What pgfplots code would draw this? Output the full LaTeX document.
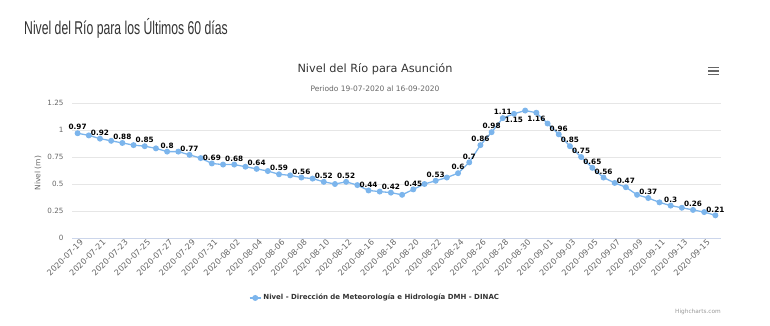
\documentclass[border=0pt]{standalone}
\usepackage{fontspec}
\setmainfont{DejaVu Sans}
\newfontfamily\condfont[FakeStretch=0.66]{Liberation Sans}
\usepackage{pgfplots}
\usepackage{pgfplotstable}
\pgfplotsset{compat=1.18}
\definecolor{hcblue}{HTML}{7CB5EC}
\definecolor{ctitle}{HTML}{333333}
\definecolor{csub}{HTML}{666666}
\definecolor{cgrid}{HTML}{E6E6E6}
\definecolor{caxis}{HTML}{CCD6EB}
\definecolor{ccred}{HTML}{999999}

\pgfplotstableread{
x y
0 0.97
1 0.95
2 0.92
3 0.90
4 0.88
5 0.86
6 0.85
7 0.83
8 0.80
9 0.80
10 0.77
11 0.74
12 0.69
13 0.68
14 0.68
15 0.66
16 0.64
17 0.62
18 0.59
19 0.58
20 0.56
21 0.55
22 0.52
23 0.50
24 0.52
25 0.49
26 0.44
27 0.43
28 0.42
29 0.40
30 0.45
31 0.50
32 0.53
33 0.56
34 0.60
35 0.70
36 0.86
37 0.98
38 1.11
39 1.15
40 1.18
41 1.16
42 1.06
43 0.96
44 0.85
45 0.75
46 0.65
47 0.56
48 0.51
49 0.47
50 0.40
51 0.37
52 0.33
53 0.30
54 0.28
55 0.26
56 0.24
57 0.21
}\nivel

\pgfplotstableread{
x y
0 0.97
2 0.92
4 0.88
6 0.85
8 0.80
10 0.77
12 0.69
14 0.68
16 0.64
18 0.59
20 0.56
22 0.52
24 0.52
26 0.44
28 0.42
30 0.45
32 0.53
34 0.60
35 0.70
36 0.86
37 0.98
38 1.11
43 0.96
44 0.85
45 0.75
46 0.65
47 0.56
49 0.47
51 0.37
53 0.30
55 0.26
57 0.21
}\labup

\pgfplotstableread{
x y
39 1.15
41 1.16
}\labdown

\begin{document}
\begin{tikzpicture}
\path[use as bounding box] (0pt,0pt) rectangle (770pt,325pt);
\node[anchor=west, text=ctitle, inner sep=0pt] at (24pt,297pt) {\condfont\fontsize{18.5}{20}\selectfont Nivel del Río para los Últimos 60 días};
\node[text=ctitle, inner sep=0pt] at (375pt,256pt) {\fontsize{11.3}{13}\selectfont Nivel del Río para Asunción};
\node[text=csub, inner sep=0pt] at (375pt,236pt) {\fontsize{7.5}{9}\selectfont Periodo 19-07-2020 al 16-09-2020};
\node[text=ccred, inner sep=0pt] at (698pt,13pt) {\fontsize{5.8}{7}\selectfont Highcharts.com};
\draw[csub, line width=1.4pt] (708pt,257.3pt) -- (719pt,257.3pt);
\draw[csub, line width=1.4pt] (708pt,254pt) -- (719pt,254pt);
\draw[csub, line width=1.4pt] (708pt,250.7pt) -- (719pt,250.7pt);
\begin{axis}[
  at={(72pt,87pt)}, anchor=south west,
  width=649pt, height=135pt, scale only axis,
  xmin=-0.5, xmax=57.5, ymin=0, ymax=1.25,
  clip=false,
  axis x line*=bottom, axis y line*=left,
  x axis line style={caxis, -},
  y axis line style={draw=none},
  tick style={draw=none},
  ytick={0,0.25,0.5,0.75,1,1.25},
  yticklabels={0,0.25,0.5,0.75,1,1.25},
  ymajorgrids, grid style={cgrid, line width=0.6pt},
  yticklabel style={font=\fontsize{7.2}{8}\selectfont, text=csub, xshift=-5pt},
  xtick={0,2,...,56},
  xticklabels={2020-07-19,2020-07-21,2020-07-23,2020-07-25,2020-07-27,2020-07-29,2020-07-31,2020-08-02,2020-08-04,2020-08-06,2020-08-08,2020-08-10,2020-08-12,2020-08-16,2020-08-18,2020-08-20,2020-08-22,2020-08-24,2020-08-26,2020-08-28,2020-08-30,2020-09-01,2020-09-03,2020-09-05,2020-09-07,2020-09-09,2020-09-11,2020-09-13,2020-09-15},
  xticklabel style={font=\fontsize{8.1}{9}\selectfont, text=csub, rotate=45, anchor=east, inner sep=1pt, xshift=2pt, yshift=-5pt},
  ylabel={Nivel (m)},
  ylabel style={at={(axis description cs:-0.0524,0.48)}, anchor=center, font=\fontsize{7.5}{8}\selectfont, text=csub},
  legend style={at={(axis description cs:0.467,-0.444)}, anchor=center, draw=none, fill=none,
    font=\bfseries\fontsize{7}{8}\selectfont, text=ctitle},
  legend image code/.code={\draw[mark repeat=2,mark phase=2,#1] plot coordinates {(0pt,0pt) (5.5pt,0pt) (11pt,0pt)};},
  /pgf/number format/assume math mode=true,
]
\addplot[hcblue, line width=1.3pt, mark=*, mark size=2.3pt, mark options={fill=hcblue, draw=hcblue}] table[x=x,y=y] {\nivel};
\addlegendentry{Nivel - Dirección de Meteorología e Hidrología DMH - DINAC}
\addplot[draw=none, forget plot, nodes near coords={\pgfmathprintnumber{\pgfplotspointmeta}},
  point meta=y,
  every node near coord/.append style={font=\bfseries\fontsize{7.3}{8}\selectfont, text=black, anchor=south, inner sep=0.5pt, yshift=2.5pt}] table[x=x,y=y] {\labup};
\addplot[draw=none, forget plot, nodes near coords={\pgfmathprintnumber{\pgfplotspointmeta}},
  point meta=y,
  every node near coord/.append style={font=\bfseries\fontsize{7.3}{8}\selectfont, text=black, anchor=north, inner sep=0.5pt, yshift=-3pt}] table[x=x,y=y] {\labdown};
\end{axis}
\end{tikzpicture}
\end{document}
